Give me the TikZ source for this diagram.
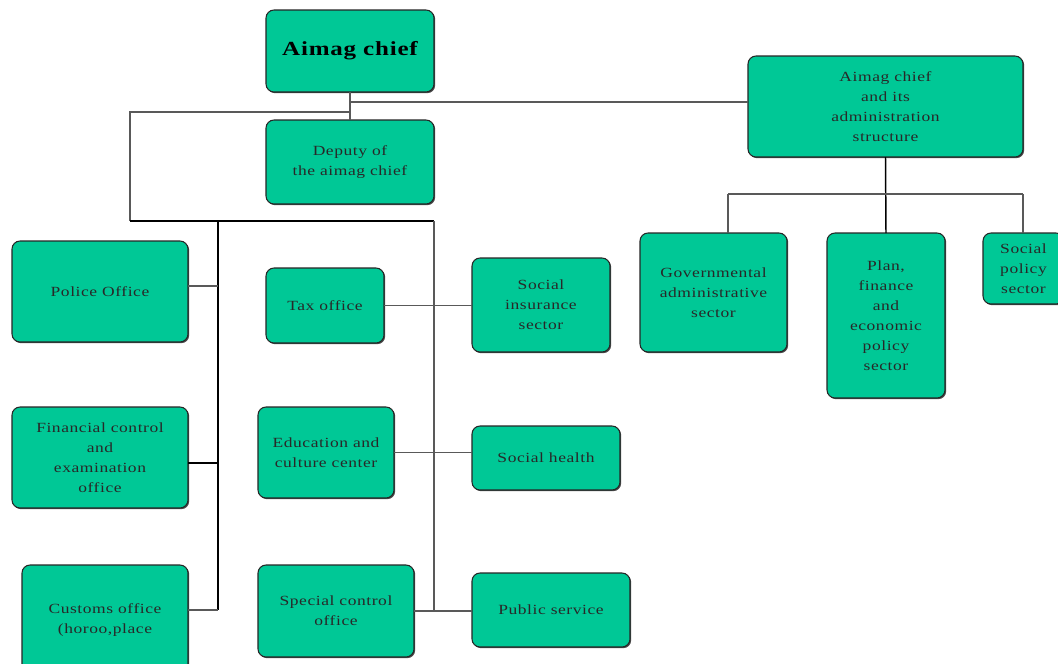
\documentclass[tikz,border=0pt]{standalone}
\usepackage{fontspec}
\setmainfont{Liberation Serif}[FakeStretch=1.25,LetterSpace=4]
\usetikzlibrary{shadows}
\definecolor{boxgreen}{RGB}{0,200,150}
\definecolor{txt}{RGB}{40,40,40}
\tikzset{
  box/.style={draw=black!85, line width=0.8pt, fill=boxgreen, rounded corners=6pt,
    align=center, inner sep=1pt, outer sep=0pt, text=txt,
    font=\fontsize{10.5}{15}\selectfont,
    drop shadow={shadow xshift=0.9pt, shadow yshift=-0.9pt, fill=black!70, opacity=1}},
  wh/.style 2 args={minimum width=#1*0.75pt, minimum height=#2*0.75pt},
  thinline/.style={draw=black!65, line width=0.8pt},
  mainline/.style={draw=black, line width=1.1pt}
}
\begin{document}
\begin{tikzpicture}[x=0.75pt,y=-0.75pt]
\clip (0,0) rectangle (1058,664);
\fill[white] (0,0) rectangle (1058,664);
% boxes
\node[box, wh={168}{82}, font=\fontsize{15}{18}\selectfont\bfseries, text=black] (chief) at (350,51) {Aimag chief};
\node[box, wh={168}{84}] (deputy) at (350,162) {Deputy of\\the aimag chief};
\node[box, wh={275}{101}] (admin) at (885.5,106.5) {Aimag chief\\and its\\administration\\structure};
\node[box, wh={147}{119}] (gov) at (713.5,292.5) {Governmental\\administrative\\sector};
\node[box, wh={118}{165}] (plan) at (886,315.5) {Plan,\\finance\\and\\economic\\policy\\sector};
\node[box, wh={81}{71}] (socpol) at (1023.5,268.5) {Social\\policy\\sector};
\node[box, wh={176}{101}] (police) at (100,291.5) {Police Office};
\node[box, wh={176}{101}] (fin) at (100,457.5) {Financial control\\and\\examination\\office};
\node[box, wh={166}{110}] (customs) at (105,620) {Customs office\\(horoo,place};
\node[box, wh={118}{75}] (tax) at (325,305.5) {Tax office};
\node[box, wh={136}{91}] (edu) at (326,452.5) {Education and\\culture center};
\node[box, wh={156}{92}] (special) at (336,611) {Special control\\office};
\node[box, wh={138}{94}] (socins) at (541,305) {Social\\insurance\\sector};
\node[box, wh={148}{64}] (health) at (546,458) {Social health};
\node[box, wh={158}{74}] (public) at (551,610) {Public service};
% junction coordinates
\coordinate (jr) at (350,102);
\coordinate (jl) at (350,112);
\coordinate (lc) at (130,112);
\coordinate (bl) at (130,221);
\coordinate (bm) at (218,221);
\coordinate (br) at (434,221);
\coordinate (vm) at (218,610);
\coordinate (vr) at (434,610);
\coordinate (sb) at (895,194);
\coordinate (sl) at (728,194);
\coordinate (sr) at (1023,194);
% connectors
\draw[thinline] (chief.south) -- (deputy.north);
\draw[thinline] (jr) -- (jr -| admin.west);
\draw[thinline] (jl) -- (lc) -- (bl);
\draw[mainline] (bl) -- (br);
\draw[mainline] (bm) -- (vm);
\draw[thinline] (br) -- (vr);
\draw[thinline] (police.east |- 0,286) -- (bm |- 0,286);
\draw[mainline] (fin.east |- 0,463) -- (bm |- 0,463);
\draw[thinline] (customs.east |- vm) -- (vm);
\draw[thinline] (tax.east) -- (tax.east -| socins.west);
\draw[thinline] (edu.east) -- (edu.east -| health.west);
\draw[thinline] (special.east) -- (special.east -| public.west);
\draw[mainline] (admin.south) -- (plan.north);
\draw[thinline] (sl) -- (sr);
\draw[thinline] (sl) -- (sl |- gov.north);
\draw[thinline] (sr) -- (sr |- socpol.north);
\end{tikzpicture}
\end{document}
